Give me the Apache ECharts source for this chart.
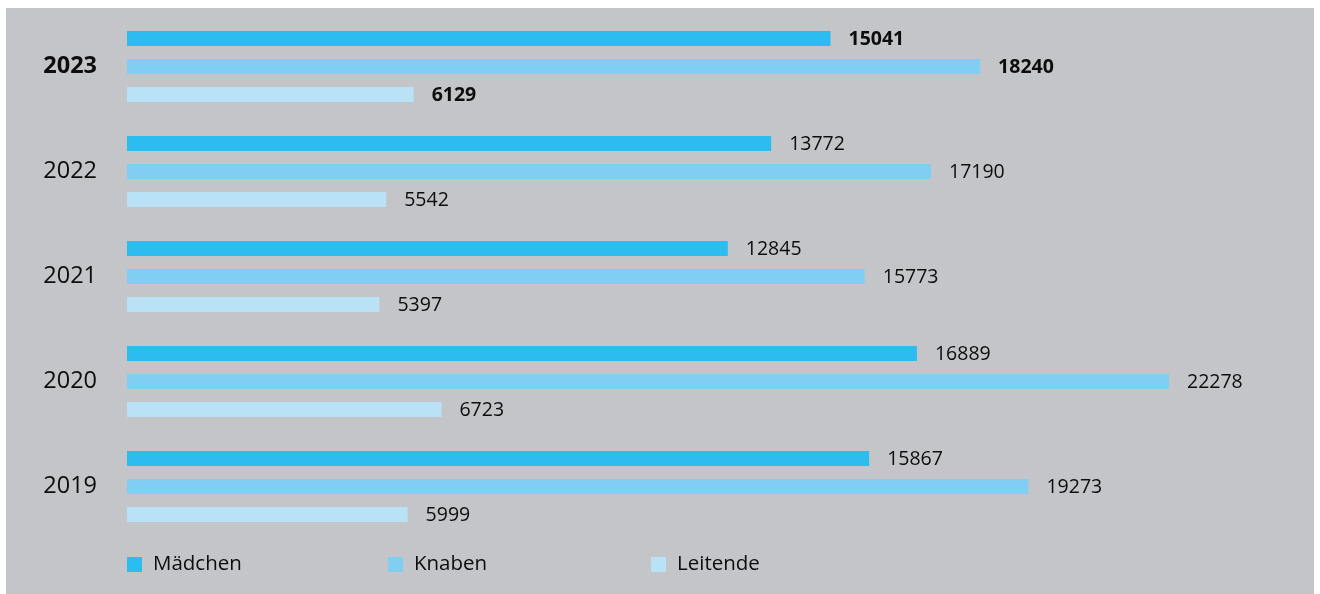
<!DOCTYPE html>
<html>
<head>
<meta charset="utf-8">
<script src="https://cdn.jsdelivr.net/npm/echarts@6/dist/echarts.min.js"></script>
<style>
html,body{margin:0;padding:0;background:#ffffff;}
#chart{width:1320px;height:594px;}
</style>
</head>
<body>
<div id="chart"></div>
<script>
const years = ['2023', '2022', '2021', '2020', '2019'];
const maedchen = [15041, 13772, 12845, 16889, 15867];
const knaben = [18240, 17190, 15773, 22278, 19273];
const leitende = [6129, 5542, 5397, 6723, 5999];
const seriesNames = ['Mädchen', 'Knaben', 'Leitende'];
const seriesColors = ['#2cbdf0', '#80cff3', '#b9e2f6'];
const boldYear = '2023';

const chart = echarts.init(document.getElementById('chart'), null, {renderer: 'canvas'});
const FONT = '"Open Sans", "Noto Sans", sans-serif';
const TXT = '#0d0d0d';

function toData(arr) {
  return arr.map((v, i) => years[i] === boldYear ? {value: v, label: {fontWeight: 'bold'}} : v);
}

const allData = [maedchen, knaben, leitende];
const series = seriesNames.map((n, k) => ({
  name: n,
  type: 'bar',
  data: toData(allData[k]),
  barWidth: 15,
  barGap: '86.67%',
  itemStyle: {color: seriesColors[k]},
  label: {
    show: true, position: 'right', distance: 18, offset: [0, 0.5],
    fontFamily: FONT, fontSize: 19.5, fontWeight: 500, color: TXT
  },
  emphasis: {disabled: true}
}));

const legendLefts = [127, 388, 651];
const legends = seriesNames.map((n, k) => ({
  data: [n],
  left: legendLefts[k],
  top: 554,
  padding: 0,
  icon: 'rect',
  itemWidth: 15,
  itemHeight: 15,
  selectedMode: false,
  textStyle: {fontFamily: FONT, fontSize: 20.5, fontWeight: 500, color: TXT, lineHeight: 15, padding: [0, 0, 0, 6]}
}));

chart.setOption({
  animation: false,
  backgroundColor: '#ffffff',
  graphic: [{
    type: 'rect', z: -10, silent: true,
    shape: {x: 6, y: 8, width: 1308, height: 586},
    style: {fill: '#c4c5c9'}
  }],
  textStyle: {fontFamily: FONT},
  grid: {left: 127, top: 14, height: 525, width: 1169.3, containLabel: false},
  xAxis: {
    type: 'value', min: 0, max: 25000, show: false
  },
  yAxis: {
    type: 'category', data: years, inverse: true,
    axisLine: {show: false}, axisTick: {show: false}, splitLine: {show: false},
    axisLabel: {
      margin: 30, fontFamily: FONT, fontSize: 23.5, fontWeight: 500, color: TXT,
      formatter: v => v === boldYear ? '{b|' + v + '}' : v,
      rich: {b: {fontFamily: FONT, fontSize: 23.5, fontWeight: 'bold', color: TXT}}
    }
  },
  legend: legends,
  series: series
});
</script>
</body>
</html>
